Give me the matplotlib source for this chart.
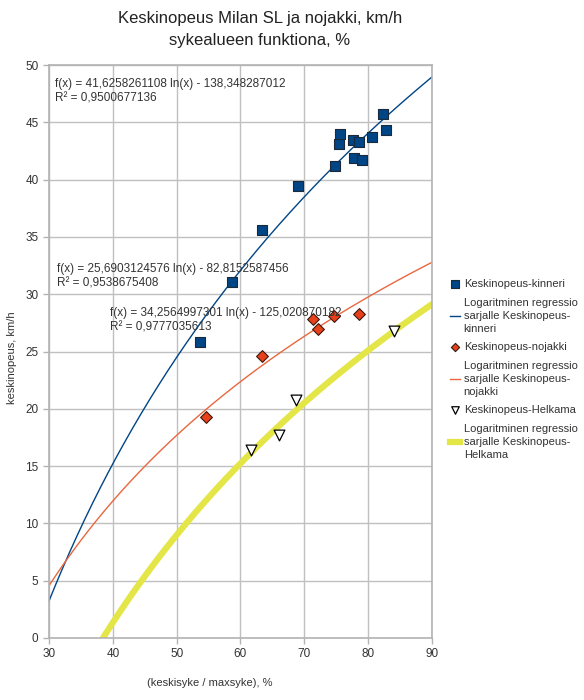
import numpy as np
import matplotlib
matplotlib.use("Agg")
import matplotlib.pyplot as plt

plt.rcParams['font.family'] = ['Liberation Sans', 'DejaVu Sans']

# measured points: x = (keskisyke / maxsyke) %, y = keskinopeus km/h
kinneri_x = [53.7, 58.7, 63.3, 69.0, 74.8, 75.4, 75.6, 77.7, 77.8, 78.6, 79.0, 80.6, 82.4, 82.8]
kinneri_y = [25.8, 31.1, 35.6, 39.4, 41.2, 43.1, 44.0, 43.5, 41.9, 43.3, 41.7, 43.7, 45.7, 44.3]

nojakki_x = [54.6, 63.3, 71.4, 72.2, 74.6, 78.5]
nojakki_y = [19.3, 24.6, 27.8, 27.0, 28.1, 28.3]

helkama_x = [61.7, 66.0, 68.7, 84.1]
helkama_y = [16.4, 17.7, 20.8, 26.8]

# logarithmic regression coefficients shown on the chart: f(x) = a ln(x) + b
kinneri_fit = (41.6258261108, -138.348287012)
nojakki_fit = (25.6903124576, -82.8152587456)
helkama_fit = (34.2564997301, -125.020870182)

eq_texts = [
    "f(x) = 41,6258261108 ln(x) - 138,348287012\nR² = 0,9500677136",
    "f(x) = 25,6903124576 ln(x) - 82,8152587456\nR² = 0,9538675408",
    "f(x) = 34,2564997301 ln(x) - 125,020870182\nR² = 0,9777035613",
]

blue = "#004586"
orange = "#e8673f"
red = "#e8401a"
yellow = "#e3e646"

fig = plt.figure(figsize=(5.84, 7.0), dpi=100)
ax = fig.add_axes([0.0839, 0.0886, 0.7397 - 0.0839, 0.9071 - 0.0886])

xs = np.linspace(30, 90, 300)


def fit_line(coef):
    return coef[0] * np.log(xs) + coef[1]


ax.plot(xs, fit_line(kinneri_fit), color=blue, lw=1.0, zorder=2,
        label="Logaritminen regressio\nsarjalle Keskinopeus-\nkinneri")
ax.plot(xs, fit_line(nojakki_fit), color=orange, lw=1.0, zorder=2,
        label="Logaritminen regressio\nsarjalle Keskinopeus-\nnojakki")
ax.plot(xs, fit_line(helkama_fit), color=yellow, lw=4.5, zorder=2,
        label="Logaritminen regressio\nsarjalle Keskinopeus-\nHelkama")

ax.scatter(kinneri_x, kinneri_y, marker="s", s=60, color=blue, edgecolor="#1a2a3a",
           lw=0.8, zorder=3, label="Keskinopeus-kinneri")
ax.scatter(nojakki_x, nojakki_y, marker="D", s=36, color=red, edgecolor="#3a1a10",
           lw=0.8, zorder=3, label="Keskinopeus-nojakki")
ax.scatter(helkama_x, helkama_y, marker="v", s=60, color="white", edgecolor="black",
           lw=0.9, zorder=3, label="Keskinopeus-Helkama")

eq_pos = [(30.9, 48.9), (31.2, 32.7), (39.6, 28.9)]
for (ex, ey), txt in zip(eq_pos, eq_texts):
    ax.text(ex, ey, txt, fontsize=8.5, va="top", ha="left", color="#333333",
            linespacing=1.3, zorder=4)

ax.set_xlim(30, 90)
ax.set_ylim(0, 50)
ax.set_xticks(range(30, 91, 10))
ax.set_yticks(range(0, 51, 5))
ax.grid(True, color="#c0c0c0", lw=1.0)
ax.set_axisbelow(True)
for s in ax.spines.values():
    s.set_color("#b3b3b3")
    s.set_linewidth(1.2)
ax.tick_params(colors="#b3b3b3", labelcolor="#333333", labelsize=8.5, length=4, width=1)

ax.set_xlabel("(keskisyke / maxsyke), %", fontsize=8, color="#333333")
ax.xaxis.set_label_coords(0.42, -0.07)
ax.set_ylabel("keskinopeus, km/h", fontsize=8, color="#333333")
ax.yaxis.set_label_coords(-0.083, 0.49)

fig.suptitle("Keskinopeus Milan SL ja nojakki, km/h\nsykealueen funktiona, %",
             x=0.445, y=0.984, fontsize=12, color="#222222", linespacing=1.6)

handles, labels = ax.get_legend_handles_labels()
order = [3, 0, 4, 1, 5, 2]
leg = ax.legend([handles[i] for i in order], [labels[i] for i in order],
                loc="upper left", bbox_to_anchor=(1.035, 0.634), frameon=False,
                fontsize=8, handlelength=0.9, handletextpad=0.35, labelspacing=0.75,
                borderaxespad=0, markerscale=0.7)
for t in leg.get_texts():
    t.set_color("#333333")
    t.set_linespacing(1.4)

fig.savefig("out.png", dpi=100)
